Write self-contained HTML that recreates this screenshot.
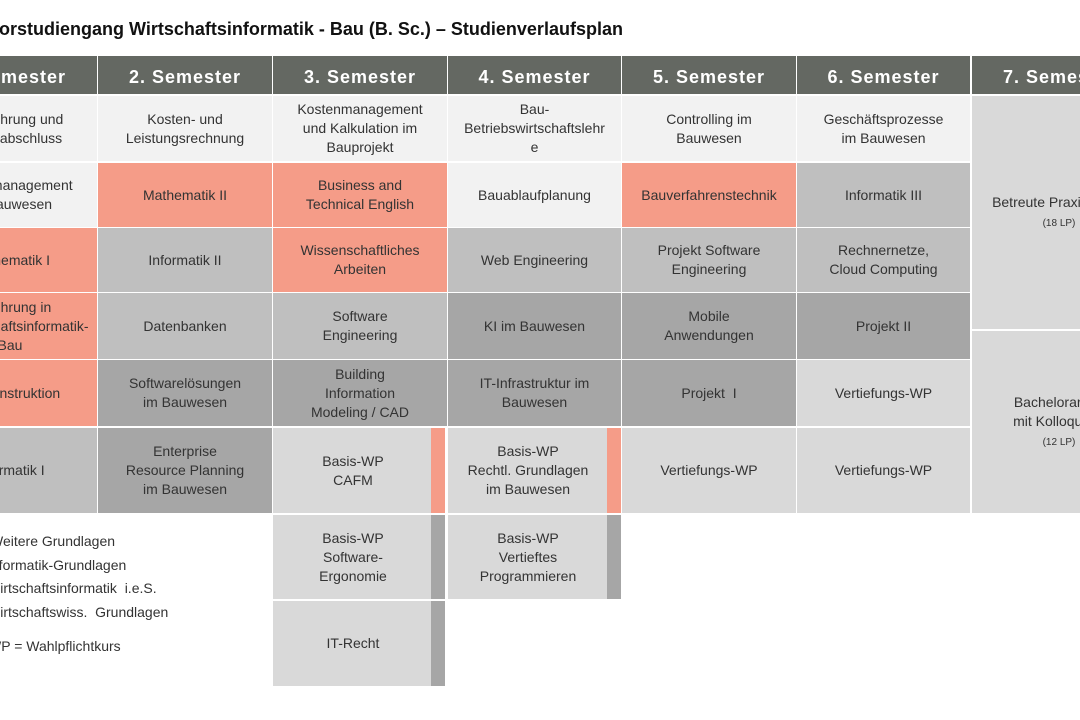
<!DOCTYPE html>
<html><head><meta charset="utf-8"><style>
body{margin:0;width:1080px;height:720px;overflow:hidden;background:#fff;position:relative;font-family:"Liberation Sans",sans-serif;}
.c{position:absolute;display:flex;align-items:center;justify-content:center;text-align:center;font-size:14px;line-height:19px;color:#333;box-sizing:border-box;padding:0 4px;}
.h{background:#646862;color:#fff;font-weight:bold;font-size:18px;letter-spacing:1px;padding-top:5px;}
.L{background:#f2f2f2}.S{background:#f59c88}.M{background:#bfbfbf}.D{background:#a6a6a6}.G{background:#d9d9d9}
.bar{position:absolute;width:14px}
.t{position:absolute;font-size:14px;color:#333;white-space:nowrap}
</style></head><body>
<div class="t" style="left:-60px;top:19px;font-size:18px;font-weight:bold;color:#111">Bachelorstudiengang Wirtschaftsinformatik - Bau (B. Sc.) – Studienverlaufsplan</div>

<div class="c h" style="left:-77px;top:56px;width:174px;height:38px">1. Semester</div>
<div class="c h" style="left:98px;top:56px;width:174px;height:38px">2. Semester</div>
<div class="c h" style="left:273px;top:56px;width:174px;height:38px">3. Semester</div>
<div class="c h" style="left:448px;top:56px;width:173px;height:38px">4. Semester</div>
<div class="c h" style="left:622px;top:56px;width:174px;height:38px">5. Semester</div>
<div class="c h" style="left:797px;top:56px;width:173px;height:38px">6. Semester</div>
<div class="c h" style="left:972px;top:56px;width:174px;height:38px">7. Semester</div>

<!-- col1 -->
<div class="c L" style="left:-77px;top:96px;width:174px;height:65px">Buchführung und<br>Jahresabschluss</div>
<div class="c L" style="left:-77px;top:163px;width:174px;height:64px">Projektmanagement<br>im Bauwesen</div>
<div class="c S" style="left:-77px;top:228px;width:174px;height:64px">Mathematik I</div>
<div class="c S" style="left:-77px;top:293px;width:174px;height:66px">Einführung in<br>die Wirtschaftsinformatik-<br>Bau</div>
<div class="c S" style="left:-77px;top:360px;width:174px;height:66px">Baukonstruktion</div>
<div class="c M" style="left:-77px;top:428px;width:174px;height:85px">Informatik I</div>
<!-- col2 -->
<div class="c L" style="left:98px;top:96px;width:174px;height:65px">Kosten- und<br>Leistungsrechnung</div>
<div class="c S" style="left:98px;top:163px;width:174px;height:64px">Mathematik II</div>
<div class="c M" style="left:98px;top:228px;width:174px;height:64px">Informatik II</div>
<div class="c M" style="left:98px;top:293px;width:174px;height:66px">Datenbanken</div>
<div class="c D" style="left:98px;top:360px;width:174px;height:66px">Softwarelösungen<br>im Bauwesen</div>
<div class="c D" style="left:98px;top:428px;width:174px;height:85px">Enterprise<br>Resource Planning<br>im Bauwesen</div>
<!-- col3 -->
<div class="c L" style="left:273px;top:96px;width:174px;height:65px">Kostenmanagement<br>und Kalkulation im<br>Bauprojekt</div>
<div class="c S" style="left:273px;top:163px;width:174px;height:64px">Business and<br>Technical English</div>
<div class="c S" style="left:273px;top:228px;width:174px;height:64px">Wissenschaftliches<br>Arbeiten</div>
<div class="c M" style="left:273px;top:293px;width:174px;height:66px">Software<br>Engineering</div>
<div class="c D" style="left:273px;top:360px;width:174px;height:66px">Building<br>Information<br>Modeling / CAD</div>
<div class="c G" style="left:273px;top:428px;width:160px;height:85px">Basis-WP<br>CAFM</div>
<div class="bar S" style="left:431px;top:428px;height:85px"></div>
<div class="c G" style="left:273px;top:515px;width:160px;height:84px">Basis-WP<br>Software-<br>Ergonomie</div>
<div class="bar D" style="left:431px;top:515px;height:84px"></div>
<div class="c G" style="left:273px;top:601px;width:160px;height:85px">IT-Recht</div>
<div class="bar D" style="left:431px;top:601px;height:85px"></div>
<!-- col4 -->
<div class="c L" style="left:448px;top:96px;width:173px;height:65px">Bau-<br>Betriebswirtschaftslehr<br>e</div>
<div class="c L" style="left:448px;top:163px;width:173px;height:64px">Bauablaufplanung</div>
<div class="c M" style="left:448px;top:228px;width:173px;height:64px">Web Engineering</div>
<div class="c D" style="left:448px;top:293px;width:173px;height:66px">KI im Bauwesen</div>
<div class="c D" style="left:448px;top:360px;width:173px;height:66px">IT-Infrastruktur im<br>Bauwesen</div>
<div class="c G" style="left:448px;top:428px;width:160px;height:85px">Basis-WP<br>Rechtl. Grundlagen<br>im Bauwesen</div>
<div class="bar S" style="left:607px;top:428px;height:85px"></div>
<div class="c G" style="left:448px;top:515px;width:160px;height:84px">Basis-WP<br>Vertieftes<br>Programmieren</div>
<div class="bar D" style="left:607px;top:515px;height:84px"></div>
<!-- col5 -->
<div class="c L" style="left:622px;top:96px;width:174px;height:65px">Controlling im<br>Bauwesen</div>
<div class="c S" style="left:622px;top:163px;width:174px;height:64px">Bauverfahrenstechnik</div>
<div class="c M" style="left:622px;top:228px;width:174px;height:64px">Projekt Software<br>Engineering</div>
<div class="c D" style="left:622px;top:293px;width:174px;height:66px">Mobile<br>Anwendungen</div>
<div class="c D" style="left:622px;top:360px;width:174px;height:66px">Projekt&nbsp;&nbsp;I</div>
<div class="c G" style="left:622px;top:428px;width:174px;height:85px">Vertiefungs-WP</div>
<!-- col6 -->
<div class="c L" style="left:797px;top:96px;width:173px;height:65px">Geschäftsprozesse<br>im Bauwesen</div>
<div class="c M" style="left:797px;top:163px;width:173px;height:64px">Informatik III</div>
<div class="c M" style="left:797px;top:228px;width:173px;height:64px">Rechnernetze,<br>Cloud Computing</div>
<div class="c D" style="left:797px;top:293px;width:173px;height:66px">Projekt II</div>
<div class="c G" style="left:797px;top:360px;width:173px;height:66px">Vertiefungs-WP</div>
<div class="c G" style="left:797px;top:428px;width:173px;height:85px">Vertiefungs-WP</div>
<!-- col7 -->
<div class="c G" style="left:972px;top:96px;width:174px;height:233px"><div>Betreute Praxisphase<br><span style="font-size:10px">(18 LP)</span></div></div>
<div class="c G" style="left:972px;top:331px;width:174px;height:182px"><div>Bachelorarbeit<br>mit Kolloquium<br><span style="font-size:10px">(12 LP)</span></div></div>

<!-- legend -->
<div class="t" style="left:-10px;top:533px">Weitere Grundlagen</div>
<div class="t" style="left:-13px;top:557px">Informatik-Grundlagen</div>
<div class="t" style="left:-13px;top:580px">Wirtschaftsinformatik&nbsp; i.e.S.</div>
<div class="t" style="left:-13px;top:604px">Wirtschaftswiss.&nbsp; Grundlagen</div>
<div class="t" style="left:-12px;top:638px">WP = Wahlpflichtkurs</div>
</body></html>
